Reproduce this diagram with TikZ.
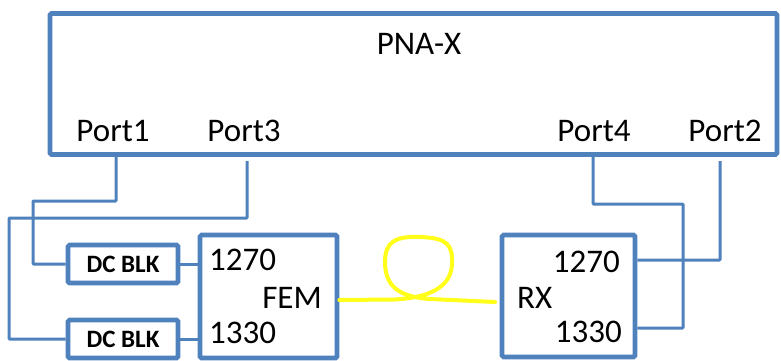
\documentclass[tikz,border=0pt]{standalone}
\usepackage{fontspec}
\setmainfont{Carlito}
\definecolor{officeblue}{HTML}{4F81BD}
\definecolor{fibre}{HTML}{FFFF1A}
\begin{document}
\begin{tikzpicture}[x=1pt,y=-1pt,
  box/.style={draw=officeblue,line width=4.6pt,rounded corners=1.5pt,fill=white,inner sep=0pt},
  wire/.style={draw=officeblue,line width=3pt,rounded corners=0.8pt},
  lbl/.style={inner sep=0pt,font=\fontsize{33}{37}\selectfont},
  blklbl/.style={inner sep=0pt,font=\fontsize{25}{28}\selectfont\bfseries}]
\useasboundingbox (0,0) rectangle (781,361);

% Analyser
\node[box,minimum width=727pt,minimum height=141pt] (pna) at (413.5,84) {};
\node[lbl] (pnatitle) at (419,44) {PNA-X};
\node[lbl] (port1) at (113,131) {Port1};
\node[lbl] (port3) at (244,131) {Port3};
\node[lbl] (port4) at (594,131) {Port4};
\node[lbl] (port2) at (725,131) {Port2};
\coordinate (p1) at (116,156);
\coordinate (p3) at (247,161);
\coordinate (p4) at (593,156);
\coordinate (p2) at (720,161);

% DC blocks
\node[box,minimum width=110pt,minimum height=38pt] (dc1) at (123,264) {};
\node[blklbl] at (dc1) {DC BLK};
\node[box,minimum width=110pt,minimum height=38pt] (dc2) at (123,339) {};
\node[blklbl] at (dc2) {DC BLK};

% Front-end module
\node[box,minimum width=137pt,minimum height=123pt] (fem) at (268.5,296.5) {};
\node[lbl,anchor=west] (fem1270) at (209,260) {1270};
\node[lbl,anchor=east] (femname) at (322,298) {FEM};
\node[lbl,anchor=west] (fem1330) at (209,333) {1330};

% Receiver
\node[box,minimum width=133pt,minimum height=122pt] (rx) at (568.5,296) {};
\node[lbl,anchor=east] (rx1270) at (620,262) {1270};
\node[lbl,anchor=west] (rxname) at (517,298) {RX};
\node[lbl,anchor=east] (rx1330) at (622,332) {1330};
\coordinate (rxa) at (rx.east |- 0,260);
\coordinate (rxb) at (rx.east |- 0,328);

% Cabling
\draw[wire] (p1) |- (33,201) |- (dc1.west);
\draw[wire] (p3) |- (9,218) |- (dc2.west);
\draw[wire] (dc1.east) -- (fem.west |- dc1.east);
\draw[wire] (dc2.east) -- (fem.west |- dc2.east);
\draw[wire] (p4) |- (683,204) |- (rxb);
\draw[wire] (p2) |- (rxa);

% Fibre loop between FEM and RX
\coordinate (fibrestart) at (fem.east |- 0,300);
\coordinate (fibreend) at (495,302);
\draw[fibre,line width=4pt,line cap=round,line join=round]
  (fibrestart) -- (395,299.5)
  .. controls (420,298) and (450,292) .. (452,265)
  .. controls (453,245) and (448,238) .. (420,237)
  .. controls (395,236) and (385,242) .. (385,262)
  .. controls (385,287) and (400,297) .. (430,299)
  -- (fibreend);
\end{tikzpicture}
\end{document}
